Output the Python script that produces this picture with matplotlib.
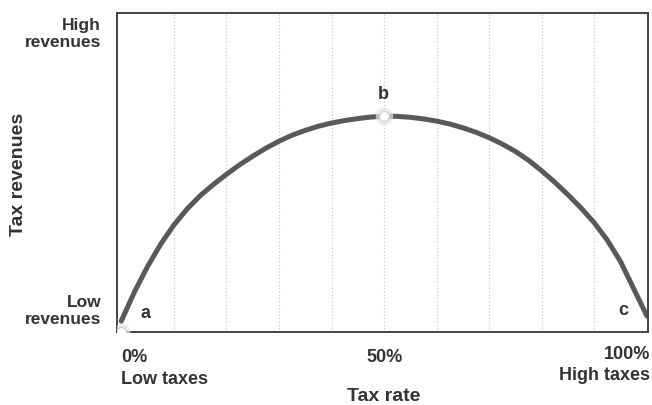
import matplotlib.pyplot as plt

# tax rate (%) and relative tax revenues
rate = [0, 2.5, 5, 7.5, 10, 12.5, 15, 17.5, 20, 22.5, 25, 27.5, 30, 32.5, 35, 37.5, 40,
        42.5, 45, 47.5, 50, 52.5, 55, 57.5, 60, 62.5, 65, 67.5, 70, 72.5, 75, 77.5, 80,
        82.5, 85, 87.5, 90, 92.5, 95, 97.5, 100]
revenue = [0.034, 0.125, 0.205, 0.275, 0.335, 0.385, 0.427, 0.462, 0.494, 0.524, 0.551,
           0.576, 0.598, 0.617, 0.632, 0.645, 0.655, 0.663, 0.669, 0.674, 0.676, 0.676,
           0.673, 0.668, 0.661, 0.652, 0.64, 0.626, 0.609, 0.589, 0.566, 0.538, 0.505,
           0.469, 0.43, 0.388, 0.342, 0.287, 0.22, 0.135, 0.05]

point_labels = ['a', 'b', 'c']
marked_rates = [0, 50]
marked_revenues = [0.0, 0.676]

grid_rates = [10, 20, 30, 40, 50, 60, 70, 80, 90]

txt = '#333333'
font = 'Liberation Sans'

fig = plt.figure(figsize=(6.52, 4.06), dpi=100)
ax = fig.add_axes([117 / 652, 1 - 333 / 406, 531 / 652, 319 / 406])
ax.set_xlim(-0.8, 100.2)
ax.set_ylim(0, 1)

for g in grid_rates:
    ax.axvline(g, color='#c4c4c4', lw=0.8, ls=(0, (1, 2)), zorder=0)

ax.plot(rate, revenue, color='#595959', lw=3.6, solid_capstyle='round', zorder=2)

# points a and b, with a soft grey halo
ax.scatter(marked_rates, marked_revenues, s=160, color='#e4e4e4', alpha=0.7, zorder=3, lw=0)
ax.scatter(marked_rates, marked_revenues, s=50, color='white', edgecolor='#cfcfcf', lw=0.8, zorder=4)

ax.text(4.6, 0.06, point_labels[0], fontsize=13, fontweight='bold', family=font, color=txt,
        ha='center', va='center')
ax.text(49.8, 0.748, point_labels[1], fontsize=13, fontweight='bold', family=font, color=txt,
        ha='center', va='center')
ax.text(95.5, 0.07, point_labels[2], fontsize=13, fontweight='bold', family=font, color=txt,
        ha='center', va='center')

for s in ax.spines.values():
    s.set_color('#444444')
    s.set_linewidth(1.4)
ax.set_xticks([])
ax.set_yticks([])

# tick texts
ax.text(0, -0.05, '0%\nLow taxes', fontsize=13, fontweight='bold', family=font, color=txt,
        ha='left', va='top', linespacing=1.4, clip_on=False)
ax.text(50, -0.05, '50%', fontsize=13, fontweight='bold', family=font, color=txt,
        ha='center', va='top', clip_on=False)
ax.text(100.6, -0.04, '100%\nHigh taxes', fontsize=13, fontweight='bold', family=font, color=txt,
        ha='right', va='top', linespacing=1.3, clip_on=False, multialignment='right')

fig.text(101 / 652, 1 - 34 / 406, 'High\nrevenues', fontsize=12.5, fontweight='bold', family=font,
         color=txt, ha='right', va='center', linespacing=1.2, multialignment='right')
fig.text(101 / 652, 1 - 311 / 406, 'Low\nrevenues', fontsize=12.5, fontweight='bold', family=font,
         color=txt, ha='right', va='center', linespacing=1.2, multialignment='right')

fig.text(384 / 652, 1 - 397 / 406, 'Tax rate', fontsize=14, fontweight='bold', family=font,
         color=txt, ha='center', va='center')
fig.text(19 / 652, 1 - 174 / 406, 'Tax revenues', fontsize=14, fontweight='bold', family=font,
         color=txt, ha='center', va='center', rotation=90)

fig.savefig('out.png', dpi=100, facecolor='white')
